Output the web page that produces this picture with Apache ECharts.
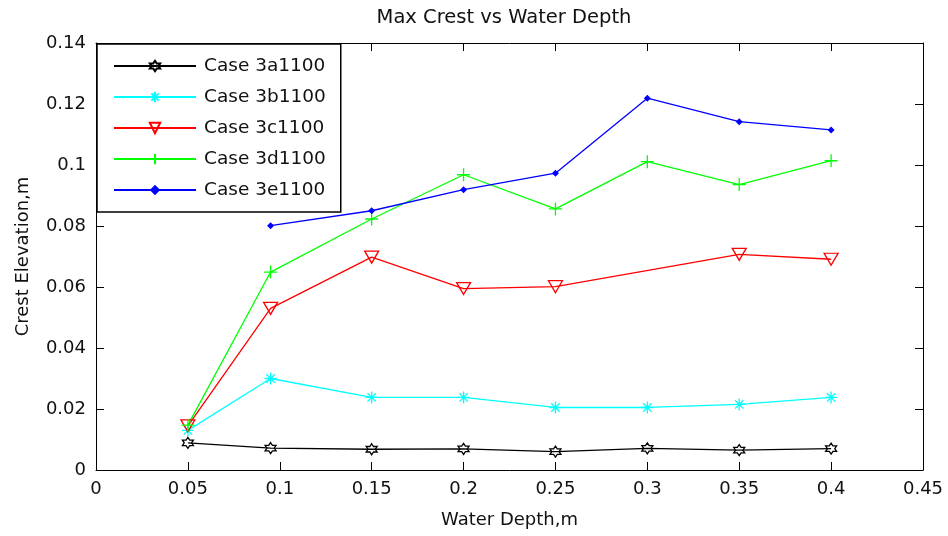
<!DOCTYPE html>
<html>
<head>
<meta charset="utf-8">
<script src="https://cdn.jsdelivr.net/npm/echarts@6/dist/echarts.min.js"></script>
<style>
  html, body { margin: 0; padding: 0; background: #fff; }
  #chart { width: 948px; height: 536px; }
</style>
</head>
<body>
<div id="chart"></div>
<script>
// Water depth (m) at which each case was run
const depth = [0.05, 0.095, 0.15, 0.2, 0.25, 0.3, 0.35, 0.4];

// Maximum crest elevation (m) per case; null = no run at that depth
const case3a = [0.0089, 0.0072, 0.0068, 0.0069, 0.0060, 0.0071, 0.0065, 0.0070];
const case3b = [0.0130, 0.0300, 0.0238, 0.0238, 0.0205, 0.0205, 0.0215, 0.0238];
const case3c = [0.0145, 0.0530, 0.0698, 0.0595, 0.0601, null, 0.0707, 0.0691];
const case3d = [0.0147, 0.0649, 0.0823, 0.0968, 0.0856, 0.1011, 0.0936, 0.1014];
const case3e = [null, 0.0801, 0.0850, 0.0919, 0.0973, 0.1219, 0.1142, 0.1115];

const caseNames = ['Case 3a1100', 'Case 3b1100', 'Case 3c1100', 'Case 3d1100', 'Case 3e1100'];

const xTicks = { min: 0, max: 0.45, interval: 0.05 };
const yTicks = { min: 0, max: 0.14, interval: 0.02 };

const FONT = 'DejaVu Sans';

// Marker outlines (stroke only)
const HEXAGRAM = 'path://M0,-10 L2.887,-5 L8.66,-5 L5.77,0 L8.66,5 L2.887,5 L0,10 L-2.887,5 L-8.66,5 L-5.77,0 L-8.66,-5 L-2.887,-5 Z';
const ASTERISK = 'path://M0,5 L10,5 M5,0 L5,10 M1.5,1.5 L8.5,8.5 M8.5,1.5 L1.5,8.5';
const TRI_DOWN = 'path://M0,0 L10,0 L5,9 Z';
const PLUS = 'path://M5,0 L5,10 M0,5 L10,5';

function pairs(values) {
  const out = [];
  values.forEach((v, i) => { if (v !== null) out.push([depth[i], v]); });
  return out;
}

function lineSeries(name, values, color, symbol, size, filled) {
  return {
    name: name,
    type: 'line',
    data: pairs(values),
    symbol: symbol,
    symbolSize: size,
    showAllSymbol: true,
    lineStyle: { color: color, width: 1.3 },
    itemStyle: filled
      ? { color: color, borderColor: color, borderWidth: 0 }
      : { color: 'rgba(255,255,255,0)', borderColor: color, borderWidth: 1.3 },
    emphasis: { disabled: true },
    animation: false,
    z: 3
  };
}

const axisLine = { show: true, onZero: false, lineStyle: { color: '#000', width: 1 } };
const tickIn = { show: true, inside: true, length: 8, lineStyle: { color: '#000', width: 1 } };
const labelStyle = { fontFamily: FONT, fontSize: 18, color: '#111' };

const chart = echarts.init(document.getElementById('chart'), null, { renderer: 'canvas' });

chart.setOption({
  backgroundColor: '#fff',
  animation: false,
  grid: { left: 96, right: 25, top: 43, bottom: 66, containLabel: false },
  graphic: [{
    type: 'text',
    x: 504,
    y: 18,
    style: {
      text: 'Max Crest vs Water Depth',
      fontFamily: FONT,
      fontSize: 19.5,
      fill: '#111',
      align: 'center',
      verticalAlign: 'middle'
    }
  }],
  legend: {
    data: caseNames,
    orient: 'vertical',
    left: 97,
    top: 44,
    padding: [12, 15, 12, 16],
    itemWidth: 82,
    itemHeight: 13,
    itemGap: 11,
    backgroundColor: '#fff',
    borderColor: '#000',
    borderWidth: 1.5,
    textStyle: { fontFamily: FONT, fontSize: 18.5, color: '#111', lineHeight: 20, padding: [0, 0, 0, 3] },
    selectedMode: false
  },
  xAxis: [
    {
      type: 'value',
      min: xTicks.min, max: xTicks.max, interval: xTicks.interval,
      name: 'Water Depth,m',
      nameLocation: 'middle',
      nameGap: 41,
      nameTextStyle: labelStyle,
      axisLine: axisLine,
      axisTick: tickIn,
      axisLabel: { margin: 10, fontFamily: FONT, fontSize: 18, color: '#111' },
      splitLine: { show: false }
    },
    {
      type: 'value',
      position: 'top',
      min: xTicks.min, max: xTicks.max, interval: xTicks.interval,
      axisLine: axisLine,
      axisTick: tickIn,
      axisLabel: { show: false },
      splitLine: { show: false }
    }
  ],
  yAxis: [
    {
      type: 'value',
      min: yTicks.min, max: yTicks.max, interval: yTicks.interval,
      name: 'Crest Elevation,m',
      nameLocation: 'middle',
      nameRotate: 90,
      nameGap: 64,
      nameTextStyle: labelStyle,
      axisLine: axisLine,
      axisTick: tickIn,
      axisLabel: { margin: 10, fontFamily: FONT, fontSize: 18, color: '#111' },
      splitLine: { show: false }
    },
    {
      type: 'value',
      position: 'right',
      min: yTicks.min, max: yTicks.max, interval: yTicks.interval,
      axisLine: axisLine,
      axisTick: tickIn,
      axisLabel: { show: false },
      splitLine: { show: false }
    }
  ],
  series: [
    lineSeries(caseNames[0], case3a, '#000000', HEXAGRAM, 11, false),
    lineSeries(caseNames[1], case3b, '#00ffff', ASTERISK, 12, false),
    lineSeries(caseNames[2], case3c, '#ff0000', TRI_DOWN, [14, 12], false),
    lineSeries(caseNames[3], case3d, '#00ff00', PLUS, 13, false),
    lineSeries(caseNames[4], case3e, '#0000ff', 'diamond', 7, true)
  ]
});
</script>
</body>
</html>
